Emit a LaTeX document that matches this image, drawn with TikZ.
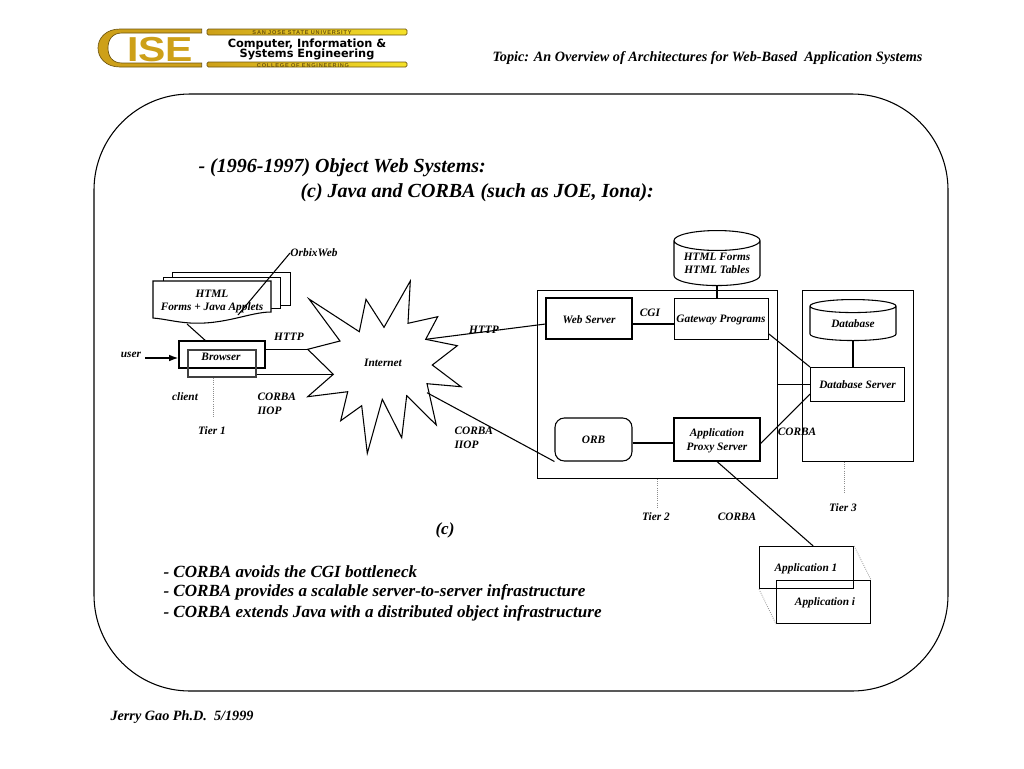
\documentclass[tikz,border=0pt]{standalone}
\usepackage{fontspec}
\setmainfont{Liberation Serif}
\newfontfamily\logohead{DejaVu Sans}
\newfontfamily\logosans{Liberation Sans}
\newfontfamily\logobar[LetterSpace=14]{Liberation Sans}
\definecolor{LogoGold}{RGB}{205,160,25}
\definecolor{LogoDark}{RGB}{110,85,15}
\definecolor{LogoYellow}{RGB}{245,225,40}
\usetikzlibrary{arrows.meta,positioning,shapes.geometric,calc}

\begin{document}
\begin{tikzpicture}[x=0.75pt,y=-0.75pt,line width=0.8pt,
  font=\fontsize{8.5}{10.2}\selectfont\bfseries\itshape,
  box/.style 2 args={draw,inner sep=0pt,align=center,minimum width=#1*0.75pt,minimum height=#2*0.75pt},
  drum/.style 2 args={draw,fill=white,cylinder,shape border rotate=90,shape aspect=0.3,inner sep=0pt,align=center,minimum width=#1*0.75pt,minimum height=#2*0.75pt},
  lbl/.style={inner sep=0pt,yshift=-0.8pt},
  note/.style={inner sep=0pt,anchor=west,yshift=-0.8pt},
  big/.style={inner sep=0pt,anchor=west,font=\fontsize{15}{17}\selectfont\bfseries\itshape},
  mid/.style={inner sep=0pt,anchor=west,font=\fontsize{12.8}{15}\selectfont\bfseries\itshape},
  tierline/.style={densely dotted,black!45,line width=0.6pt},
  barfill/.style={draw=LogoDark,line width=0.6pt,left color=LogoGold,right color=LogoYellow}]
\useasboundingbox (0,0) rectangle (1024,768);
% Logo
\fill[LogoGold,draw=LogoDark,line width=0.5pt] (201.7,29) -- (120,29) .. controls (106,29) and (98,38) .. (98,48)
  .. controls (98,58) and (106,67) .. (120,67) -- (201.7,67) -- (201.7,63) -- (122,63)
  .. controls (112,63) and (108,56) .. (108,48) .. controls (108,40) and (112,33) .. (122,33)
  -- (201.7,33) -- cycle;
\node[lbl,text=LogoGold,font=\logosans\fontsize{26}{26}\selectfont\bfseries,xscale=1.18] (logoise) at (160,48) {ISE};
\draw[barfill,rounded corners=1pt] (207,29) rectangle (407,35);
\draw[barfill,rounded corners=1pt] (207,62) rectangle (407,67);
\node[lbl,text=LogoDark,font=\logobar\fontsize{4.2}{5}\selectfont\bfseries] (logotop) at (302,32) {SAN JOSE STATE UNIVERSITY};
\node[lbl,text=LogoDark,font=\logobar\fontsize{4.2}{5}\selectfont\bfseries] (logobot) at (303,64.5) {COLLEGE OF ENGINEERING};
\node[lbl,font=\logohead\fontsize{8.5}{7.6}\selectfont\bfseries,align=center] (logotext) at (307,48) {Computer, Information \&\\[-1.5pt]Systems Engineering};
% Header and frame
\node[lbl,anchor=east,font=\fontsize{10.67}{12}\selectfont\bfseries\itshape] (topic) at (923,57) {Topic: An Overview of Architectures for Web-Based\ \ Application Systems};
\draw[rounded corners=72pt] (94,94) rectangle (948,691);
\node[big] (titlea) at (198,168) {- (1996-1997) Object Web Systems:};
\node[big] (titleb) at (300,193) {(c) Java and CORBA (such as JOE, Iona):};
% Tier 1
\foreach \x/\y/\w/\h/\n in {172/272/118/33/pageback,163/277/117/31/pagemid}{
  \node[box={\w}{\h},fill=white,anchor=north west] (\n) at (\x,\y) {};}
\draw[fill=white] (153,281) -- (271,281) -- (271,312) .. controls (250,312) and (225,325) .. (190,323) .. controls (175,322) and (165,319) .. (153,318) -- cycle;
\coordinate (pagefoot) at (187,324);
\coordinate (orbixend) at (238,315);
\node[lbl] (htmlpage) at (212,293) {HTML};
\node[lbl] (formspage) at (212,307) {Forms + Java Applets};
\node[lbl] (orbix) at (314,252) {OrbixWeb};
\draw (orbix.west) -- (orbixend);
\node[box={86}{27}] (browser) at (222,354.5) {};
\node[box={68}{27},draw=black!75] (browserb) at (222,363.5) {};
\node[lbl] (browserlbl) at (221,356) {Browser};
\draw (pagefoot) -- ($(browser.north)+(-12.5pt,0)$);
\node[lbl] (user) at (131,354) {user};
\coordinate (userstart) at (145,358);
\draw[-{Latex[length=7pt,width=5pt]},line width=1.1pt] (userstart) -- (browser.west |- userstart);
\node[lbl] (client) at (185,396) {client};
\node[lbl] (tiera) at (212,430) {Tier 1};
\coordinate (tieratop) at (213,378);
\coordinate (tierafoot) at (213,418);
\draw[tierline] (tieratop) -- (tierafoot);
% Internet
\draw (309,299) -- (359.3,331.7) -- (366,299.3) -- (384,327.3) -- (410.3,281) -- (408,323.3) -- (437.7,316.7)
  -- (425.7,339.3) coordinate (bursthttp) -- (457.3,345.7) -- (432.3,365) -- (461,386.7) -- (427,383.7)
  -- (436.3,425) -- (406.7,395.7) -- (401.7,437.7) -- (382.3,399.3) -- (367.3,453.3) -- (361.7,405.7)
  -- (340.7,420.7) -- (347.7,391.7) -- (307.7,396.7) -- (333.3,374.3) coordinate (burstiiop)
  -- (307.7,349.3) coordinate (burstweb) -- (340,341) -- cycle;
\coordinate (burstorb) at (427,392.7);
\node[lbl] (internet) at (383,362) {Internet};
\draw (browser.east |- burstweb) -- (burstweb);
\draw (browserb.east |- burstiiop) -- (burstiiop);
\node[lbl] (httpa) at (289,336) {HTTP};
\node[note,align=left] (corbaa) at (257,403) {CORBA\\IIOP};
\node[lbl] (httpb) at (484,329) {HTTP};
\node[note,align=left] (corbab) at (454,437) {CORBA\\IIOP};
% Tier 2
\node[box={240}{188},anchor=north west] (tierb) at (537,290) {};
\node[box={86}{41}] (web) at (589,318.5) {};
\node[lbl] (weblbl) at (589,319) {Web Server};
\node[box={94}{41},anchor=north west] (gateway) at (674,298) {};
\node[lbl] (gatewaylbl) at (721,319) {Gateway Programs};
\node[drum={86}{55},anchor=north] (htmldb) at (717,230) {HTML Forms\\HTML Tables};
\node[lbl] (cgi) at (650,312) {CGI};
\coordinate (cgimark) at (650,324);
\draw (web.east |- cgimark) -- (gateway.west |- cgimark);
\draw (htmldb.south) -- (htmldb.south |- gateway.north);
\node[box={77}{43},rounded corners=7pt] (orb) at (593.5,439.5) {ORB};
\node[box={86}{43}] (proxy) at (717,439.5) {};
\node[lbl,align=center] (proxylbl) at (717,440) {Application\\Proxy Server};
\coordinate (orbmark) at (632,443);
\draw (orb.east |- orbmark) -- (proxy.west |- orbmark);
\coordinate (webmark) at (546,324);
\draw (bursthttp) -- (web.west |- webmark);
\draw (burstorb) -- (orb.south west);
\node[lbl] (tierblbl) at (656,516) {Tier 2};
\coordinate (tierbfoot) at (657,507);
\draw[tierline] (tierb.south -| tierbfoot) -- (tierbfoot);
\node[lbl] (corbac) at (737,516) {CORBA};
% Tier 3
\node[box={111}{171},anchor=north west] (tierc) at (802,290) {};
\node[drum={86}{41},anchor=north] (dbase) at (853,299) {Database};
\node[box={94}{34},fill=white,anchor=north west] (dbserver) at (810,367) {Database Server};
\draw (dbase.south) -- (dbase.south |- dbserver.north);
\draw ($(gateway.south east)+(0,4.5pt)$) -- (dbserver.north west);
\draw (tierb.east |- dbserver.center) -- (dbserver.west);
\draw ($(proxy.east)+(0,-3pt)$) -- ($(dbserver.south west)+(0,6pt)$);
\node[lbl] (corbad) at (797,431) {CORBA};
\node[lbl] (tierclbl) at (843,507) {Tier 3};
\coordinate (tiercfoot) at (844,493);
\draw[tierline] (tierc.south -| tiercfoot) -- (tiercfoot);
% Applications
\node[box={94}{42},anchor=north west] (appa) at (759,546) {};
\node[box={94}{43},anchor=north west] (appb) at (776,580) {};
\node[lbl] (appalbl) at (806,568) {Application 1};
\node[lbl] (appblbl) at (825,602) {Application i};
\draw (proxy.south) -- ($(appa.north)+(5pt,0)$);
\draw[tierline] (appa.north east) -- (appb.north east);
\draw[tierline] (appa.south west) -- (appb.south west);
% Bottom text
\node[lbl,font=\fontsize{12.8}{15}\selectfont\bfseries\itshape] (caption) at (445,529.5) {(c)};
\node[mid] (pointa) at (163,571.5) {- CORBA avoids the CGI bottleneck};
\node[mid] (pointb) at (163,592.5) {- CORBA provides a scalable server-to-server infrastructure};
\node[mid] (pointc) at (163,613.5) {- CORBA extends Java with a distributed object infrastructure};
\node[note,font=\fontsize{10.67}{12}\selectfont\bfseries\itshape] (footer) at (110,716) {Jerry Gao Ph.D.\ \ 5/1999};
\end{tikzpicture}
\end{document}
